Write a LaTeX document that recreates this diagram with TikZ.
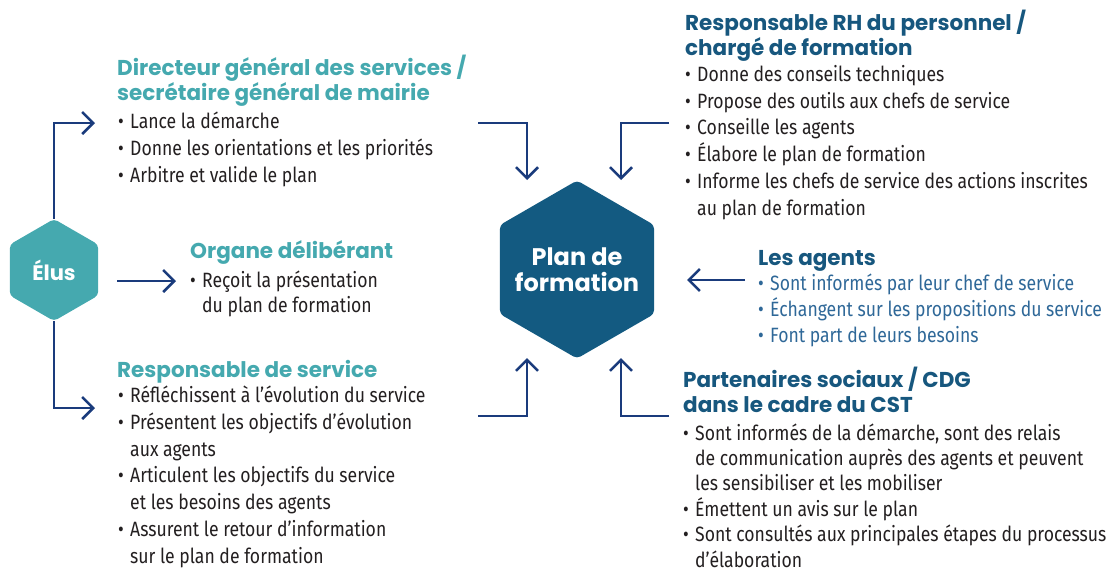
\documentclass[tikz,border=0pt]{standalone}
\usepackage{fontspec}
\usetikzlibrary{shapes.geometric,arrows.meta}
\newfontfamily\titlef{Poppins}
\newfontfamily\bodyf{Fira Sans}[FakeStretch=0.85]
\definecolor{teal}{HTML}{45A9AF}
\definecolor{dblue}{HTML}{17577E}
\definecolor{hexblue}{HTML}{135A81}
\definecolor{arrc}{HTML}{1A3B7C}
\definecolor{bodyc}{HTML}{231F20}
\definecolor{agc}{HTML}{2F6898}
\newcommand\bul{\makebox[12pt][l]{•}}
\newcommand\ind{\makebox[12pt]{}}
\tikzset{
  ttl/.style={anchor=base west, inner sep=0pt, align=left, font=\titlef\bfseries\fontsize{21.5}{25}\selectfont},
  body/.style={anchor=base west, inner sep=0pt, align=left, font=\bodyf\fontsize{20.7}{26.7}\selectfont, text=bodyc},
  hexa/.style={regular polygon, regular polygon sides=6, shape border rotate=30, inner sep=0pt, rounded corners=4pt},
  hlab/.style={text=white, align=center, inner sep=0pt},
  arr/.style={draw=arrc, line width=2.5pt, -{Straight Barb[length=11pt,width=22pt]}},
}
\begin{document}
\begin{tikzpicture}[x=1pt,y=-1pt]
\useasboundingbox (0,0) rectangle (1119,574);
% hexagons
\node[hexa, fill=hexblue, minimum size=178pt,
  label={[hlab, font=\titlef\bfseries\fontsize{24}{26}\selectfont]center:Plan de\\formation}] (plan) at (577,269.5) {};
\node[hexa, fill=teal, minimum size=102pt,
  label={[hlab, font=\titlef\bfseries\fontsize{21}{24}\selectfont]center:Élus}] (elus) at (54,270) {};
% left texts (anchored at the baseline of the last line)
\node[ttl, text=teal] (dgt) at (117,100) {Directeur général des services /\\secrétaire général de mairie};
\node[body] (dgb) at (118,182) {\bul Lance la démarche\\\bul Donne les orientations et les priorités\\\bul Arbitre et valide le plan};
\node[ttl, text=teal] (odt) at (190,258) {Organe délibérant};
\node[body, font=\bodyf\fontsize{20.7}{25}\selectfont] (odb) at (190,312) {\bul Reçoit la présentation\\\ind du plan de formation};
\node[ttl, text=teal] (rst) at (117,377) {Responsable de service};
\node[body] (rsb) at (118,563) {\bul Réfléchissent à l’évolution du service\\\bul Présentent les objectifs d’évolution\\\ind aux agents\\\bul Articulent les objectifs du service\\\ind et les besoins des agents\\\bul Assurent le retour d’information\\\ind sur le plan de formation};
% right texts
\node[ttl, text=dblue] (rht) at (685,55) {Responsable RH du personnel /\\chargé de formation};
\node[body] (rhb) at (685,215) {\bul Donne des conseils techniques\\\bul Propose des outils aux chefs de service\\\bul Conseille les agents\\\bul Élabore le plan de formation\\\bul Informe les chefs de service des actions inscrites\\\ind au plan de formation};
\node[ttl, text=dblue] (agt) at (758,265) {Les agents};
\node[body, text=agc, font=\bodyf\fontsize{20.7}{26}\selectfont] (agb) at (758,342) {\bul Sont informés par leur chef de service\\\bul Échangent sur les propositions du service\\\bul Font part de leurs besoins};
\node[ttl, text=dblue] (pst) at (683,412) {Partenaires sociaux / CDG\\dans le cadre du CST};
\node[body, font=\bodyf\fontsize{20.7}{25.4}\selectfont] (psb) at (683,567) {\bul Sont informés de la démarche, sont des relais\\\ind de communication auprès des agents et peuvent\\\ind les sensibiliser et les mobiliser\\\bul Émettent un avis sur le plan\\\bul Sont consultés aux principales étapes du processus\\\ind d’élaboration};
% connector coordinates
\coordinate (e1) at (95,123);
\coordinate (e2) at (95,408);
\coordinate (m1) at (117,281);
\coordinate (m2) at (176,281);
\coordinate (tl) at (478,123);
\coordinate (tla) at (527,180);
\coordinate (tr) at (669,123);
\coordinate (tra) at (621,180);
\coordinate (bl) at (478,416);
\coordinate (bla) at (527,358);
\coordinate (br) at (669,416);
\coordinate (bra) at (621,358);
\coordinate (ag1) at (745,280);
\coordinate (ag2) at (687,280);
% connectors
\draw[arr] (elus.north) |- (e1);
\draw[arr] (elus.south) |- (e2);
\draw[arr] (m1) -- (m2);
\draw[arr] (tl) -| (tla);
\draw[arr] (tr) -| (tra);
\draw[arr] (bl) -| (bla);
\draw[arr] (br) -| (bra);
\draw[arr] (ag1) -- (ag2);
\end{tikzpicture}
\end{document}
